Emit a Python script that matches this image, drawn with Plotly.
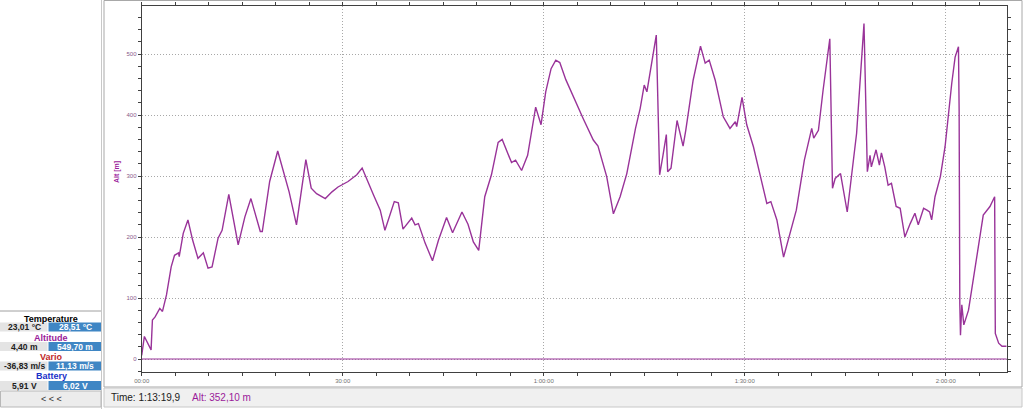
import plotly.graph_objects as go

# ---------------------------------------------------------------------------
# data: flight time (minutes) vs altitude (m)
# ---------------------------------------------------------------------------
time_min = [
    0, 0.4, 1.4, 1.6, 2.0, 2.7, 3.1, 3.7, 4.4, 4.9, 5.5, 5.6, 6.2, 6.9, 7.6,
    8.4, 9.2, 9.9, 10.5, 11.4, 12.0, 13.0, 14.4, 15.4, 16.3, 16.8, 17.7, 18.0,
    19.1, 20.3, 22.0, 23.1, 24.5, 25.3, 26.1, 27.4, 28.4, 29.3, 30.8, 32.1,
    32.9, 34.6, 35.6, 36.3, 37.7, 38.3, 39.0, 40.3, 40.8, 41.3, 42.3, 43.4,
    44.3, 45.5, 46.4, 47.8, 48.7, 49.5, 50.3, 51.2, 52.2, 53.2, 53.8, 55.2,
    55.8, 56.7, 57.6, 58.8, 59.6, 60.3, 61.1, 61.8, 62.4, 63.3, 64.7, 65.9,
    67.4, 68.1, 69.4, 70.4, 71.4, 72.4, 73.7, 74.4, 75.0, 75.4, 76.8, 77.3,
    77.8, 78.3, 78.5, 79.0, 79.9, 80.8, 81.2, 82.3, 83.4, 84.1, 84.7, 85.6,
    86.8, 87.8, 88.6, 88.8, 89.6, 90.3, 91.3, 92.2, 93.3, 93.9, 94.8, 95.8,
    97.7, 98.9, 100.0, 100.3, 101.0, 101.7, 102.7, 103.1, 103.5, 104.3, 105.3,
    106.7, 107.8, 108.3, 108.7, 108.9, 109.6, 110.1, 110.4, 110.9, 111.4,
    111.9, 112.6, 113.2, 113.9, 114.7, 115.4, 115.9, 116.7, 117.2, 117.6,
    117.9, 118.4, 119.2, 119.9, 120.9, 121.4, 121.9, 122.0, 122.1, 122.2,
    122.4, 122.7, 123.4, 124.6, 125.6, 126.6, 127.3, 127.4, 127.9, 128.4, 129.1,
]
alt_m = [
    6, 37, 15, 64, 69, 83, 78, 105, 151, 170, 174, 168, 206, 228, 195,
    165, 174, 149, 151, 198, 211, 270, 187, 233, 263, 244, 209, 209,
    291, 341, 274, 220, 327, 280, 271, 263, 274, 282, 291, 302,
    313, 269, 244, 211, 258, 256, 213, 231, 220, 222, 190, 161,
    195, 232, 207, 241, 221, 192, 178, 266, 302, 355, 360, 322,
    326, 309, 334, 413, 384, 438, 476, 490, 486, 458, 422, 394,
    359, 349, 299, 238, 266, 304, 378, 411, 449, 438, 531, 302,
    334, 368, 307, 313, 391, 349, 375, 457, 513, 485, 490, 457,
    397, 378, 389, 381, 429, 384, 348, 307, 255, 258, 228, 167,
    244, 326, 378, 362, 375, 441, 525, 280, 296, 304, 241,
    370, 550, 307, 334, 315, 343, 318, 338, 315, 285,
    288, 250, 247, 200, 222, 239, 220, 247, 244, 241,
    228, 266, 299, 348, 452, 495, 512, 408, 91, 39,
    89, 56, 80, 168, 236, 250, 266, 42, 26, 21, 21,
]

x_tickvals = [0, 30, 60, 90, 120]
x_ticktext = ['00:00', '30:00', '1:00:00', '1:30:00', '2:00:00']

# side panel (label, colour, min value, max value)
panel_labels = ['Temperature', 'Altitude', 'Vario', 'Battery']
panel_colors = ['#000000', '#9a1a9a', '#c02828', '#1a30c8']
panel_min = ['23,01 °C', '4,40 m', '-36,83 m/s', '5,91 V']
panel_max = ['28,51 °C', '549,70 m', '11,13 m/s', '6,02 V']

status_time = 'Time: 1:13:19,9'
status_alt = 'Alt: 352,10 m'

W, H = 1024, 409
LINE = '#993399'
FONT = 'Liberation Sans'


def px(x):
    return x / W


def py(y):
    return 1 - y / H


def label(text, x, y, size, color, anchor='center', angle=0):
    return dict(text=text, xref='paper', yref='paper', x=px(x), y=py(y),
                xanchor=anchor, yanchor='middle', showarrow=False,
                textangle=angle, font=dict(size=size, color=color, family=FONT))


def box(x0, x1, y0, y1, fill=None, line='#c0c0c0', lw=1):
    return dict(type='rect', xref='paper', yref='paper',
                x0=px(x0), x1=px(x1), y0=py(y1), y1=py(y0),
                fillcolor=fill, line=dict(color=line, width=lw), layer='below')


fig = go.Figure()
fig.add_trace(go.Scatter(x=time_min, y=alt_m, mode='lines',
                         line=dict(color=LINE, width=1.4), hoverinfo='skip',
                         showlegend=False))

axis_common = dict(showline=True, linecolor='#404040', linewidth=1,
                   mirror='allticks', ticks='outside', ticklen=3,
                   tickcolor='#404040', showgrid=True, gridcolor='#a8a8a8',
                   griddash='1px,2px', gridwidth=1, automargin=False,
                   zeroline=False)

fig.update_xaxes(domain=[px(141.7), px(1006.7)], range=[0, 129.1],
                 tickvals=x_tickvals, ticktext=x_ticktext,
                 tickfont=dict(size=6, color='#707070', family=FONT),
                 minor=dict(dtick=5, ticks='outside', ticklen=3,
                            tickcolor='#404040'),
                 **axis_common)
fig.update_yaxes(domain=[py(372), py(6)], range=[-21.3, 578.7],
                 tickvals=[0, 100, 200, 300, 400, 500],
                 tickfont=dict(size=6, color='#8a5a8a', family=FONT),
                 minor=dict(dtick=20, ticks='outside', ticklen=3,
                            tickcolor='#404040'),
                 **axis_common)

shapes = []
annotations = []

# purple baseline at 0 m
shapes.append(dict(type='line', xref='x domain', yref='y', x0=0, x1=1,
                   y0=0, y1=0, line=dict(color=LINE, width=1)))

# chart frame and status bar
shapes.append(box(104, 1022, 0.5, 387, line='#a8a8a8'))
shapes.append(box(101.5, 101.5, 0, 409, line='#c8c8c8'))
shapes.append(box(104, 1022, 388, 407, fill='#f0f0f0', line='#c8c8c8'))
annotations.append(label(status_time, 109, 397, 10, '#202020', 'left'))
annotations.append(label(status_alt, 190, 397, 10, '#9a1a9a', 'left'))

# y axis title
annotations.append(label('<b>Alt [m]</b>', 117, 172, 7, '#9a1a9a', angle=-90))

# side panel table
shapes.append(box(0, 101, 311, 311, line='#c0c0c0'))
for i, lab in enumerate(panel_labels):
    y_lab = 318.5 + i * 19.3
    y_val = 327 + i * 19.5
    annotations.append(label('<b>%s</b>' % lab, 51, y_lab, 9, panel_colors[i]))
    shapes.append(box(0, 47.5, y_val - 4.5, y_val + 4.5, fill='#e4e4e4', lw=0))
    shapes.append(box(48.5, 101, y_val - 4.5, y_val + 4.5, fill='#3f86c4', lw=0))
    annotations.append(label('<b>%s</b>' % panel_min[i], 24, y_val, 8.5,
                             '#202020'))
    annotations.append(label('<b>%s</b>' % panel_max[i], 75, y_val, 8.5,
                             '#ffffff'))

shapes.append(box(0.5, 101, 391, 407, fill='#ececec', line='#b8b8b8'))
annotations.append(label('< < <', 51, 398.5, 9, '#303030'))

fig.update_layout(width=W, height=H, margin=dict(l=0, r=0, t=0, b=0),
                  paper_bgcolor='white', plot_bgcolor='white',
                  shapes=shapes, annotations=annotations, showlegend=False)

fig.write_html("out.html", config={'displayModeBar': False},
               post_script="document.body.style.margin='0';")
